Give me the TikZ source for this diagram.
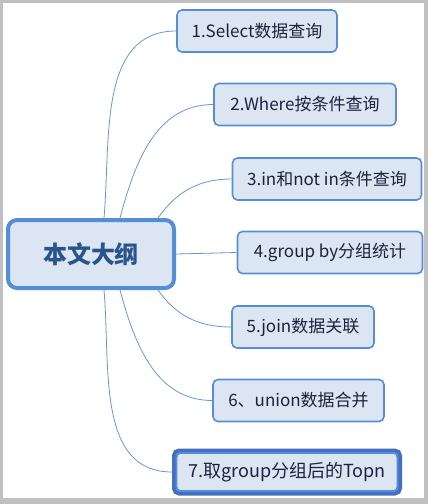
\documentclass[tikz,border=0pt]{standalone}
\usepackage{fontspec}
\setmainfont{Noto Sans CJK SC}
\usepackage{tikz}
\definecolor{mapBlue}{RGB}{85,142,213}
\definecolor{mapDeep}{RGB}{70,110,195}
\definecolor{mapFill}{RGB}{220,230,242}
\definecolor{mapInk}{RGB}{25,35,60}
\definecolor{mapTitle}{RGB}{42,84,140}
\definecolor{mapLine}{RGB}{105,150,218}
\definecolor{frameGray}{RGB}{192,192,192}

\begin{document}
\begin{tikzpicture}[
    x=1pt, y=-1pt,
    topic/.style={rectangle, rounded corners=5pt, draw=mapBlue, line width=1.6pt, fill=mapFill, minimum height=42pt, inner sep=0pt, text=mapInk, font=\fontsize{17}{20}\selectfont},
    root/.style={rectangle, rounded corners=9pt, draw=mapBlue, line width=4pt, fill=mapFill, minimum width=166pt, minimum height=68pt, inner sep=0pt, text=mapTitle, font=\fontsize{24}{28}\selectfont\bfseries},
    branch/.style={draw=mapLine, line width=0.8pt}
]
% frame
\fill[frameGray] (0,0) rectangle (428,504);
\fill[white] (3,3) rectangle (424,498);

\node[root] (main) at (91,254) {本文大纲};
\node[topic, minimum width=160pt] (t1) at (257,31) {1.Select数据查询};
\node[topic, minimum width=182pt] (t2) at (305,104.5) {2.Where按条件查询};
\node[topic, minimum width=189pt] (t3) at (327,179) {3.in和not in条件查询};
\node[topic, minimum width=185pt] (t4) at (330,252.5) {4.group by分组统计};
\node[topic, minimum width=142pt] (t5) at (303,327) {5.join数据关联};
\node[topic, minimum width=171pt] (t6) at (298.5,400.5) {6、union数据合并};
\node[topic, draw=mapDeep, line width=4pt, minimum width=226pt, minimum height=43pt, font=\fontsize{18}{21}\selectfont] (t7) at (287,472) {7.取group分组后的Topn};
\draw[mapBlue, line width=1.8pt, rounded corners=4pt] ([shift={(4.5pt,-4.5pt)}]t7.north west) rectangle ([shift={(-4.5pt,4.5pt)}]t7.south east);

% branches
\draw[branch] ([xshift=13pt]main.north) to[out=85, in=180] (t1.west);
\draw[branch] ([xshift=29pt]main.north) to[out=75, in=180] (t2.west);
\draw[branch] ([xshift=67pt]main.north) to[out=55, in=180] (t3.west);
\draw[branch] (main.east) -- (t4.west);
\draw[branch] ([xshift=67pt]main.south) to[out=-55, in=180] (t5.west);
\draw[branch] ([xshift=29pt]main.south) to[out=-75, in=180] (t6.west);
\draw[branch] ([xshift=13pt]main.south) to[out=-85, in=180] (t7.west);
\end{tikzpicture}
\end{document}
